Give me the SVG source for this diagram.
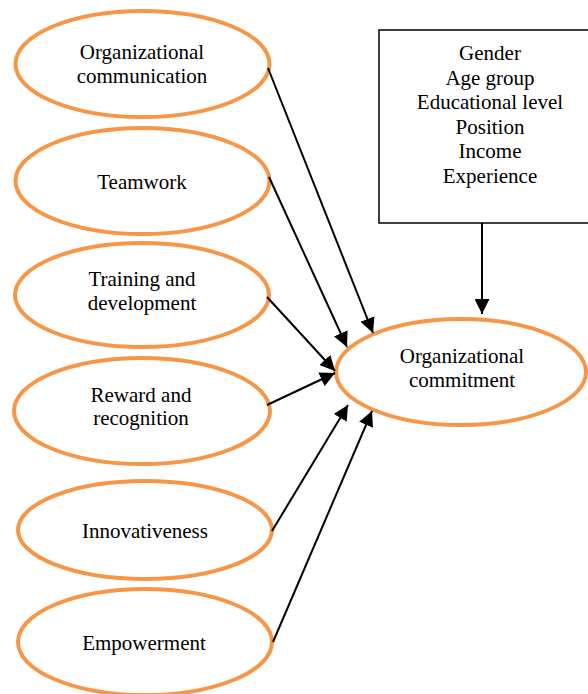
<svg xmlns="http://www.w3.org/2000/svg" width="588" height="694" viewBox="0 0 588 694">
<defs>
<style>
.node ellipse{fill:#fff;stroke:#F79646;stroke-width:4}
text{font-family:"Liberation Serif","Times New Roman",serif;font-size:21px;fill:#000;text-anchor:middle}
.conn line{stroke:#000;stroke-width:2;marker-end:url(#ah)}
</style>
<marker id="ah" markerUnits="userSpaceOnUse" markerWidth="15" markerHeight="15" viewBox="0 0 15 15" refX="15" refY="7.5" orient="auto">
<path d="M0,0 L15,7.5 L0,15 z" fill="#000"/>
</marker>
</defs>
<rect width="588" height="694" fill="#fff"/>
<g id="n1" class="node"><ellipse cx="142.5" cy="64" rx="127" ry="53"/><text x="142" y="59">Organizational</text><text x="142" y="83">communication</text></g>
<g id="n2" class="node"><ellipse cx="142.5" cy="181" rx="127" ry="53"/><text x="142" y="189">Teamwork</text></g>
<g id="n3" class="node"><ellipse cx="142" cy="295" rx="127" ry="52"/><text x="142" y="286">Training and</text><text x="142" y="310">development</text></g>
<g id="n4" class="node"><ellipse cx="142" cy="411" rx="128" ry="53"/><text x="141" y="402">Reward and</text><text x="141" y="425">recognition</text></g>
<g id="n5" class="node"><ellipse cx="145" cy="530" rx="127" ry="49"/><text x="145" y="538">Innovativeness</text></g>
<g id="n6" class="node"><ellipse cx="145" cy="642" rx="127" ry="53"/><text x="144" y="650">Empowerment</text></g>
<g id="oc" class="node"><ellipse cx="461" cy="372" rx="125" ry="53"/><text x="462" y="363">Organizational</text><text x="462" y="387">commitment</text></g>
<g id="box"><rect x="379" y="30" width="215" height="193" fill="#fff" stroke="#000" stroke-width="1.5"/>
<text x="490" y="60">Gender</text><text x="490" y="85">Age group</text><text x="490" y="109">Educational level</text><text x="490" y="134">Position</text><text x="490" y="158">Income</text><text x="490" y="183">Experience</text></g>
<g id="connectors" class="conn">
<line x1="268" y1="68" x2="373" y2="333"/>
<line x1="269" y1="177" x2="347" y2="347"/>
<line x1="267" y1="297" x2="335" y2="371"/>
<line x1="267" y1="405" x2="335" y2="373"/>
<line x1="272" y1="531" x2="348" y2="405"/>
<line x1="273" y1="642" x2="372" y2="411"/>
<line x1="482" y1="223" x2="482" y2="314"/>
</g>
</svg>
